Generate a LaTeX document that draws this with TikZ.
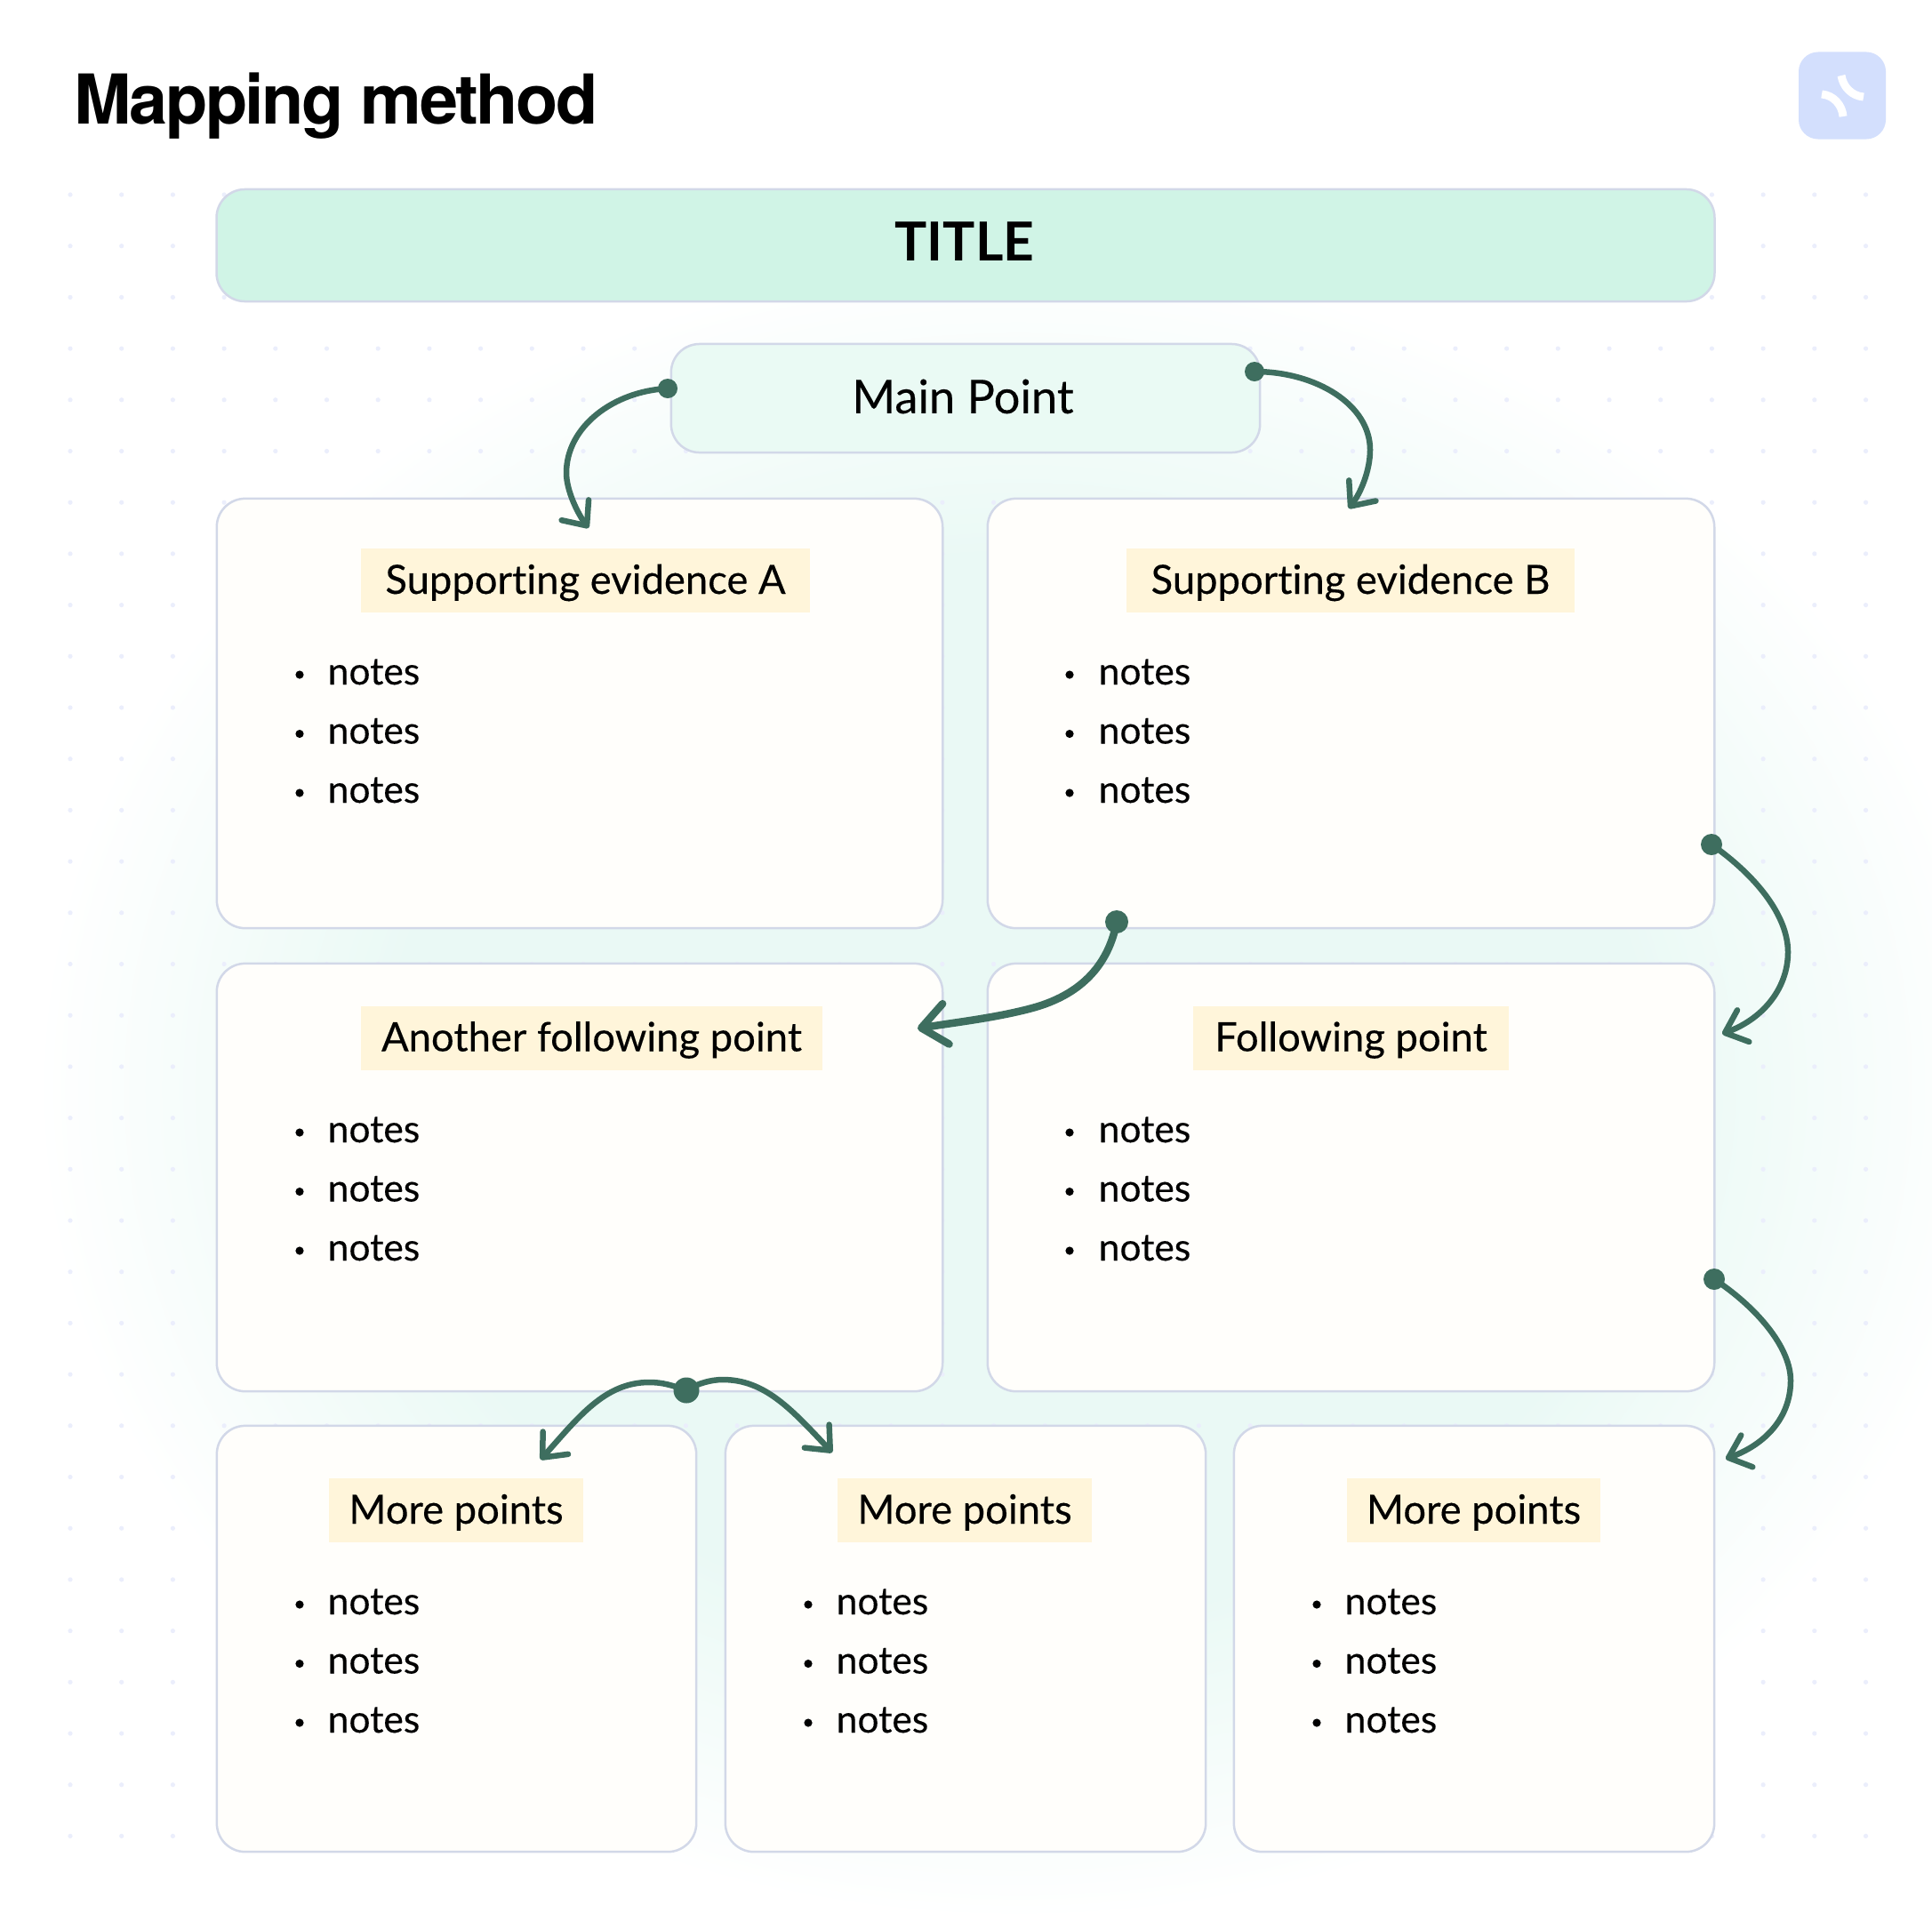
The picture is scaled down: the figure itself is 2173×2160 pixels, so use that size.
\documentclass[tikz,border=0pt]{standalone}
\usepackage{fontspec}
\setmainfont[Ligatures={NoCommon,TeX},UprightFeatures={FakeBold=0.2}]{Lato}
\newfontfamily\headfont[LetterSpace=-3.2]{TeX Gyre Heros}
\usepackage{xcolor}
\usepackage{tikz}
\usetikzlibrary{arrows.meta}
\definecolor{bordergray}{HTML}{D2D8E8}
\definecolor{titlegreen}{HTML}{D0F4E6}
\definecolor{maingreen}{HTML}{EAFAF4}
\definecolor{cardcream}{HTML}{FFFEFB}
\definecolor{labelcream}{HTML}{FFF5DA}
\definecolor{arrowgreen}{HTML}{3E6E5F}
\definecolor{griddot}{HTML}{EBEEFC}
\definecolor{iconblue}{HTML}{D3DFFD}
\definecolor{glowgreen}{HTML}{EAF9F5}
\pgfdeclareradialshading{glowshade}{\pgfpoint{0bp}{0bp}}{color(0bp)=(glowgreen); color(16bp)=(glowgreen); color(25bp)=(white); color(50bp)=(white)}
\tikzset{
	cardbox/.style={draw=bordergray,line width=.025cm,rounded corners=.32cm,fill=cardcream,inner sep=0pt,outer sep=0pt},
	labelbox/.style={fill=labelcream,inner sep=0pt,minimum height=.72cm,text height=.35cm,text depth=.05cm,font=\fontsize{12.9}{15}\selectfont},
	notetext/.style={anchor=base west,inner sep=0pt,font=\fontsize{12.1}{14}\selectfont},
	startdot/.style={circle,fill=arrowgreen,inner sep=0pt,minimum size=#1},
	linkarrow/.style={draw=arrowgreen,line width=.065cm,line cap=round,-{Straight Barb[length=.22cm,width=.38cm,round]}},
	linkthick/.style={draw=arrowgreen,line width=.085cm,line cap=round,-{Straight Barb[length=.28cm,width=.46cm,round]}}
}
\begin{document}
\begin{tikzpicture}[x=.01cm,y=-.01cm]
	\useasboundingbox (0,0) rectangle (2173,2160);
	\fill[white] (0,0) rectangle (2173,2160);
	% glow and dots behind the cards
	\shade[shading=glowshade] (1145,1225) ellipse (1105 and 935);
	\foreach \i in {0,...,35}
		\foreach \j in {0,...,32}
			\fill[griddot] ({79+57.7*\i},{219+57.7*\j}) circle (2.6);
	% heading and icon
	\node[anchor=base west,inner sep=0pt,font=\headfont\bfseries\fontsize{22}{26}\selectfont] (heading) at (83,139) {Mapping method};
	\node[fill=iconblue,rounded corners=.22cm,minimum size=.98cm,inner sep=0pt] (icon) at (2072,107.5) {};
	\draw[white,line width=.09cm] (2071,85) .. controls (2073,98) and (2083,108) .. (2096,109);
	\draw[white,line width=.09cm] (2049,106) .. controls (2062,107) and (2072,118) .. (2073,131);
	% top bars
	\node[cardbox,fill=titlegreen,minimum width=16.84cm,minimum height=1.26cm] (titlebar) at (1086,276) {};
	\node[inner sep=0pt,font=\bfseries\fontsize{17.2}{20}\selectfont] (titletext) at (1085,272) {TITLE};
	\node[cardbox,fill=maingreen,minimum width=6.62cm,minimum height=1.22cm] (mainpoint) at (1086,448) {};
	\node[inner sep=0pt,font=\fontsize{14.9}{17}\selectfont] (maintext) at (1083,446) {Main Point};
	% cards
	\node[cardbox,minimum width=8.16cm,minimum height=4.83cm] (cardA) at (652,802.5) {};
	\node[cardbox,minimum width=8.17cm,minimum height=4.83cm] (cardB) at (1519.5,802.5) {};
	\node[cardbox,minimum width=8.16cm,minimum height=4.81cm] (cardC) at (652,1324.5) {};
	\node[cardbox,minimum width=8.17cm,minimum height=4.81cm] (cardD) at (1519.5,1324.5) {};
	\node[cardbox,minimum width=5.39cm,minimum height=4.79cm] (cardE) at (513.5,1843.5) {};
	\node[cardbox,minimum width=5.40cm,minimum height=4.79cm] (cardF) at (1086,1843.5) {};
	\node[cardbox,minimum width=5.40cm,minimum height=4.79cm] (cardG) at (1658,1843.5) {};
	% labels
	\node[labelbox,minimum width=5.05cm] (labelA) at (658.5,653) {Supporting evidence A};
	\node[labelbox,minimum width=5.04cm] (labelB) at (1519,653) {Supporting evidence B};
	\node[labelbox,minimum width=5.19cm] (labelC) at (665.5,1167.5) {Another following point};
	\node[labelbox,minimum width=3.55cm] (labelD) at (1519.5,1167.5) {Following point};
	\node[labelbox,minimum width=2.86cm] (labelE) at (513,1699) {More points};
	\node[labelbox,minimum width=2.86cm] (labelF) at (1085,1699) {More points};
	\node[labelbox,minimum width=2.85cm] (labelG) at (1657.5,1699) {More points};
	% notes
	\foreach \nm/\bx/\tx/\ty in {a/337/368/770,b/1203/1235/770,c/337/368/1285,d/1203/1235/1285,e/337/368/1816,f/909/940/1816,g/1481/1512/1816}
		\foreach \k in {0,1,2} {
			\node[notetext] (note\nm\k) at (\tx,{\ty+66.5*\k}) {notes};
			\fill[black] (\bx,{\ty-11+66.5*\k}) circle (4.6);
		}
	% start dots
	\node[startdot=.22cm] (dotA) at (751,437) {};
	\node[startdot=.22cm] (dotB) at (1411,418) {};
	\node[startdot=.24cm] (dotC) at (1925,950) {};
	\node[startdot=.26cm] (dotD) at (1256,1037) {};
	\node[startdot=.24cm] (dotE) at (1928,1439) {};
	\node[startdot=.29cm] (dotF) at (772,1564) {};
	% arrow ends
	\coordinate (endA) at (662,594);
	\coordinate (endB) at (1517,572);
	\coordinate (endC) at (1937,1163);
	\coordinate (endD) at (1032,1157);
	\coordinate (endE) at (1941,1641);
	\coordinate (endF) at (608,1642);
	\coordinate (endG) at (936,1634);
	% arrows
	\draw[linkarrow] (dotA.center) .. controls (690,440) and (637,480) .. (637,532) .. controls (637,552) and (650,578) .. (endA);
	\draw[linkarrow] (dotB.center) .. controls (1480,418) and (1541,455) .. (1541,506) .. controls (1541,530) and (1530,555) .. (endB);
	\draw[linkarrow] (dotC.center) .. controls (1975,985) and (2011,1030) .. (2011,1071) .. controls (2011,1110) and (1985,1145) .. (endC);
	\draw[linkthick] (dotD.center) .. controls (1245,1095) and (1205,1122) .. (1161,1134) .. controls (1120,1145) and (1075,1150) .. (endD);
	\draw[linkarrow] (dotE.center) .. controls (1975,1470) and (2014,1515) .. (2014,1553) .. controls (2014,1595) and (1985,1625) .. (endE);
	\draw[linkarrow] (dotF.center) .. controls (755,1558) and (745,1555) .. (730,1555) .. controls (680,1555) and (650,1595) .. (endF);
	\draw[linkarrow] (dotF.center) .. controls (785,1556) and (800,1552) .. (813,1552) .. controls (860,1552) and (890,1585) .. (endG);
\end{tikzpicture}
\end{document}
